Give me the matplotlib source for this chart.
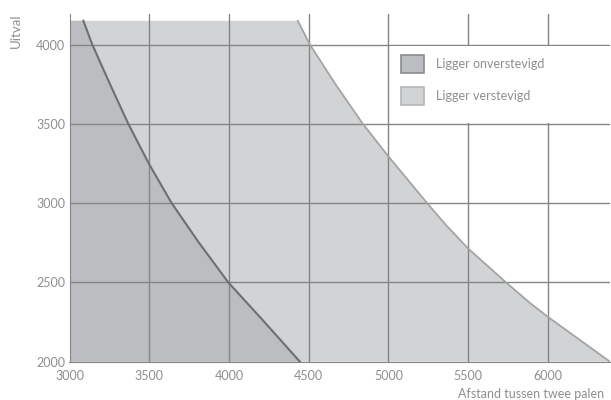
import matplotlib.pyplot as plt
from matplotlib.patches import Patch, Rectangle

# waarden
onverstevigd_x = [3087, 3143, 3252, 3369, 3500, 3641, 3808, 3996, 4222, 4445]
onverstevigd_y = [4150, 4000, 3755, 3500, 3245, 3000, 2756, 2500, 2251, 2000]
verstevigd_x = [4432, 4508, 4665, 4840, 5000, 5243, 5362, 5500, 5738, 5880, 6000, 6390]
verstevigd_y = [4150, 4000, 3755, 3500, 3295, 3000, 2861, 2714, 2500, 2377, 2283, 2000]
cap = 4150

x_ticks = [3000, 3500, 4000, 4500, 5000, 5500, 6000]
y_ticks = [2000, 2500, 3000, 3500, 4000]
labels = ['Ligger onverstevigd', 'Ligger verstevigd']

dark = '#bcbdc1'
light = '#d2d3d5'
grid_c = '#858585'
text_c = '#8e8e8e'

plt.rcParams['font.family'] = ['Lato', 'DejaVu Sans']

fig = plt.figure(figsize=(6.11, 4.00), dpi=100)
ax = fig.add_axes([69.5 / 611, 1 - 361.7 / 400, (610 - 69.5) / 611, (361.7 - 14) / 400])
xmin, xmax = 3000, 6390
ymin, ymax = 2000, 4193

ax.fill([xmin, xmin] + verstevigd_x, [ymin, cap] + verstevigd_y, color=light, lw=0, zorder=1)
ax.fill([xmin, xmin] + onverstevigd_x, [ymin, cap] + onverstevigd_y, color=dark, lw=0, zorder=2)

for v in x_ticks[1:]:
    ax.axvline(v, color=grid_c, lw=1, zorder=3)
for v in y_ticks[1:]:
    ax.axhline(v, color=grid_c, lw=1, zorder=3)

ax.plot(verstevigd_x, verstevigd_y, color='#a3a4a6', lw=1.3, zorder=4)
ax.plot(onverstevigd_x, onverstevigd_y, color='#6e6f72', lw=1.5, zorder=4)

# witte achtergrond voor de legenda
ax.add_patch(Rectangle((5008, 3506), xmax - 5008, 488, facecolor='white', edgecolor='none', zorder=5))

handles = [Patch(facecolor=dark, edgecolor='#8a8b8e', lw=1.2),
           Patch(facecolor=light, edgecolor='#b4b5b7', lw=1.2)]
leg = ax.legend(handles, labels, loc='upper left', bbox_to_anchor=(401 / 611, 1 - 55 / 400),
                bbox_transform=fig.transFigure, frameon=False, borderpad=0, borderaxespad=0,
                fontsize=9, handlelength=1.8, handleheight=1.8, labelspacing=1.14,
                handletextpad=1.0, labelcolor=text_c)
leg.set_zorder(6)

ax.set_xlim(xmin, xmax)
ax.set_ylim(ymin, ymax)
ax.set_xticks(x_ticks)
ax.set_yticks(y_ticks)
ax.tick_params(length=0, colors=text_c, labelsize=9)
ax.tick_params(axis='x', pad=6)
ax.tick_params(axis='y', pad=3)
for s in ['top', 'right']:
    ax.spines[s].set_visible(False)
for s in ['left', 'bottom']:
    ax.spines[s].set_color(grid_c)
    ax.spines[s].set_zorder(7)

fig.text(16 / 611, 1 - 31 / 400, 'Uitval', rotation=90, ha='center', va='center',
         color=text_c, fontsize=9.5)
fig.text(458 / 611, 1 - 394 / 400, 'Afstand tussen twee palen', ha='left', va='center',
         color=text_c, fontsize=9)

fig.savefig('out.png', dpi=100)
